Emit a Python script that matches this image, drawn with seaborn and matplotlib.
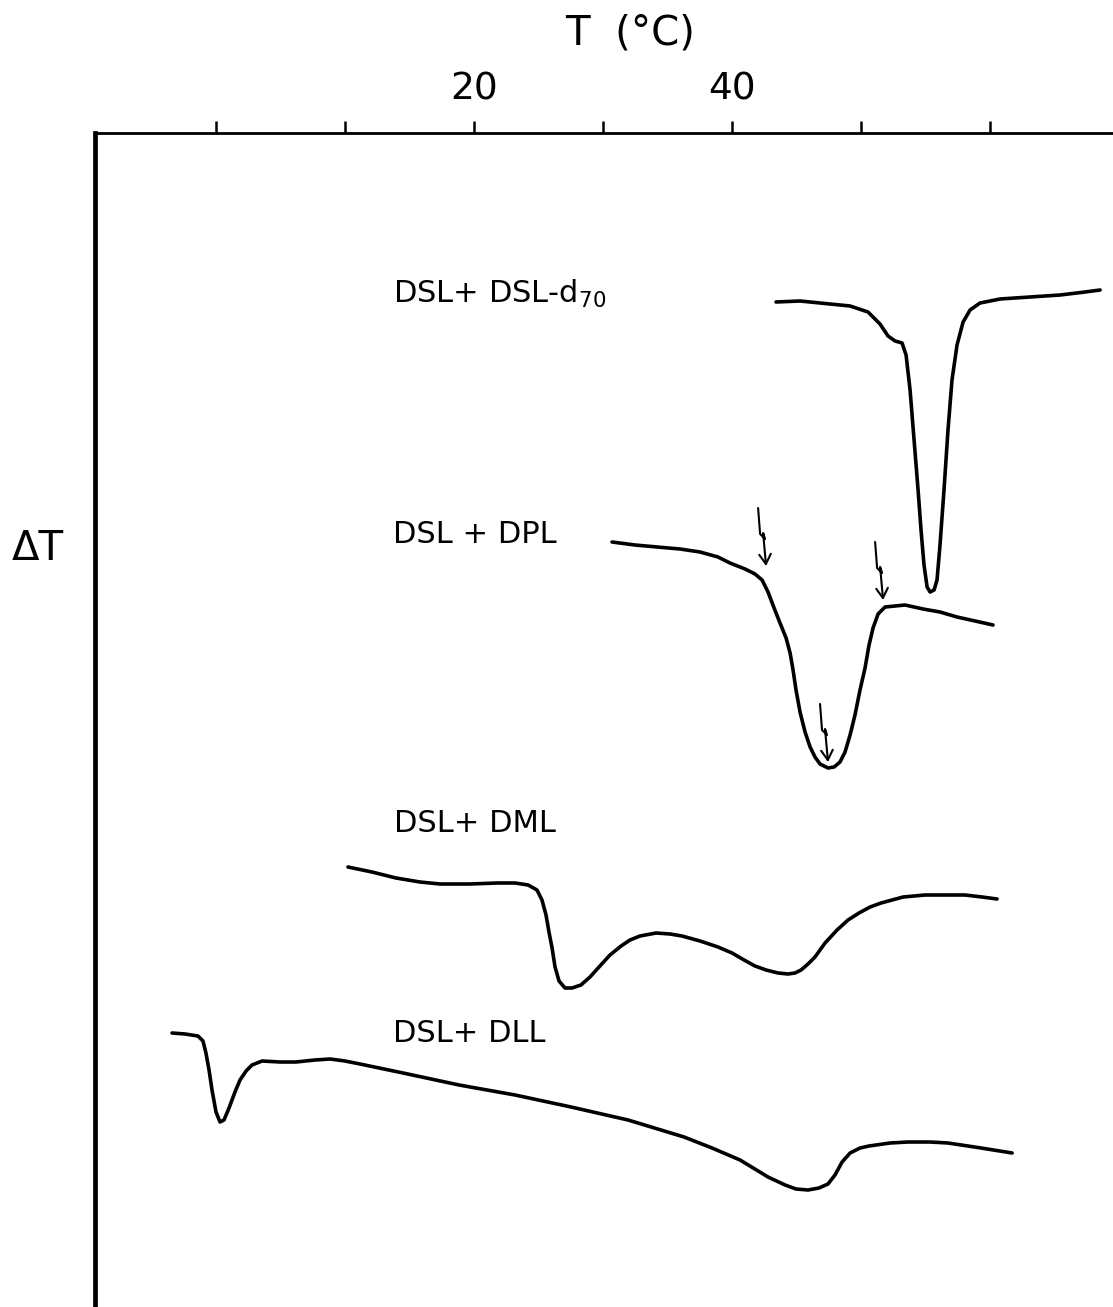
import numpy as np
import pandas as pd
import matplotlib
matplotlib.use("Agg")
import matplotlib.pyplot as plt
from matplotlib.path import Path
from matplotlib.patches import FancyArrowPatch
import seaborn as sns

# ---------------- thermogram data (T in °C, ΔT in arbitrary units) ----------------
t_d70 = [43.41, 45.27, 47.60, 49.15, 50.54, 51.47, 52.09, 52.64, 53.18, 53.49, 53.80,
         54.11, 54.42, 54.65, 54.88, 55.12, 55.35, 55.66, 55.89, 56.12, 56.43, 56.74,
         57.05, 57.44, 57.91, 58.45, 59.22, 60.78, 63.10, 65.43, 67.36, 68.53]
dt_d70 = [10.05, 10.06, 10.03, 10.01, 9.95, 9.83, 9.71, 9.66, 9.64, 9.52, 9.17,
          8.67, 8.17, 7.77, 7.42, 7.20, 7.15, 7.17, 7.27, 7.62, 8.17, 8.77,
          9.27, 9.62, 9.85, 9.97, 10.04, 10.08, 10.10, 10.12, 10.15, 10.17]

t_dpl = [30.70, 32.48, 34.19, 35.97, 37.52, 38.91, 39.84, 41.01, 41.78, 42.33, 42.79,
         43.26, 43.72, 44.19, 44.50, 44.73, 44.96, 45.27, 45.66, 46.05, 46.43, 46.82,
         47.44, 47.91, 48.37, 48.76, 49.15, 49.53, 49.92, 50.31, 50.62, 50.93, 51.32,
         51.86, 52.64, 53.41, 54.81, 56.12, 57.44, 58.84, 60.23]
dt_dpl = [7.65, 7.62, 7.60, 7.58, 7.55, 7.50, 7.44, 7.38, 7.33, 7.27, 7.15,
          6.99, 6.84, 6.69, 6.54, 6.37, 6.17, 5.95, 5.75, 5.60, 5.50, 5.43,
          5.39, 5.40, 5.45, 5.55, 5.72, 5.92, 6.17, 6.39, 6.62, 6.79, 6.93,
          7.00, 7.01, 7.02, 6.98, 6.95, 6.90, 6.86, 6.82]

t_dml = [10.23, 12.09, 13.95, 15.81, 17.36, 19.69, 21.78, 23.18, 24.19, 24.88, 25.27,
         25.58, 25.81, 26.05, 26.28, 26.59, 27.05, 27.60, 28.29, 28.99, 29.69, 30.54,
         31.40, 32.09, 32.87, 34.11, 35.19, 36.12, 37.52, 38.91, 40.00, 40.93, 41.78,
         42.64, 43.57, 44.34, 44.88, 45.35, 45.89, 46.43, 47.21, 48.14, 48.99, 49.84,
         50.70, 51.55, 53.26, 54.96, 56.67, 58.06, 59.38, 60.54]
dt_dml = [4.40, 4.35, 4.29, 4.25, 4.23, 4.23, 4.24, 4.24, 4.22, 4.17, 4.07,
          3.92, 3.75, 3.59, 3.40, 3.26, 3.19, 3.19, 3.22, 3.30, 3.40, 3.52,
          3.61, 3.67, 3.71, 3.74, 3.73, 3.71, 3.66, 3.60, 3.54, 3.47, 3.41,
          3.37, 3.34, 3.33, 3.34, 3.37, 3.43, 3.50, 3.64, 3.77, 3.87, 3.94,
          4.00, 4.04, 4.10, 4.12, 4.12, 4.12, 4.10, 4.08]

t_dll = [-3.41, -2.40, -1.40, -1.01, -0.78, -0.54, -0.31, 0.00, 0.31, 0.62, 1.01,
         1.47, 1.86, 2.33, 2.79, 3.57, 4.96, 6.20, 7.67, 8.84, 10.00, 11.16,
         14.50, 18.84, 23.18, 27.52, 31.94, 36.28, 38.45, 40.62, 42.79, 44.11,
         44.96, 45.89, 46.74, 47.44, 47.98, 48.53, 49.15, 49.92, 50.62, 52.25,
         53.64, 55.35, 56.74, 59.30, 61.71]
dt_dll = [2.74, 2.73, 2.71, 2.66, 2.54, 2.37, 2.17, 1.95, 1.85, 1.87, 1.99,
          2.15, 2.27, 2.36, 2.42, 2.46, 2.45, 2.45, 2.47, 2.48, 2.46, 2.43,
          2.34, 2.22, 2.12, 2.00, 1.87, 1.70, 1.59, 1.47, 1.30, 1.22,
          1.18, 1.17, 1.19, 1.23, 1.32, 1.45, 1.54, 1.59, 1.61, 1.64,
          1.65, 1.65, 1.64, 1.59, 1.54]

curve_labels = ["DSL+ DSL-d$_{70}$", "DSL + DPL", "DSL+ DML", "DSL+ DLL"]
label_t = [13.7, 13.7, 13.8, 13.7]
label_dt = [10.04, 7.64, 4.75, 2.65]

# transition markers on the DSL + DPL trace (arrow tips)
marker_t = [42.64, 51.71, 47.44]
marker_dt = [7.41, 7.07, 5.45]

tick_values = [0, 10, 20, 30, 40, 50, 60]
tick_labels = ["", "", "20", "", "40", "", ""]

# ---------------- figure ----------------
sns.set_theme(style="white")
plt.rcParams["font.family"] = ["DejaVu Sans"]
plt.rcParams["mathtext.default"] = "regular"

W, H = 1113, 1307
fig = plt.figure(figsize=(W / 100, H / 100), dpi=100)
ax = fig.add_axes([95 / W, 0.0, 1 - 95 / W, 1174 / H])

frames = []
for name, t, dt in [("d70", t_d70, dt_d70), ("dpl", t_dpl, dt_dpl),
                    ("dml", t_dml, dt_dml), ("dll", t_dll, dt_dll)]:
    frames.append(pd.DataFrame({"T": t, "dT": dt, "run": name}))
df = pd.concat(frames, ignore_index=True)

for name in ["d70", "dpl", "dml", "dll"]:
    sub = df[df["run"] == name]
    sns.lineplot(data=sub, x="T", y="dT", ax=ax, color="black", linewidth=2.6,
                 estimator=None, sort=False, legend=False)
for line in ax.get_lines():
    line.set_solid_capstyle("round")
    line.set_solid_joinstyle("round")

for txt, tx, ty in zip(curve_labels, label_t, label_dt):
    ax.text(tx, ty, txt, fontsize=22, ha="left", va="baseline", color="black")

# hand-drawn style arrows: short stroke with a small kink, arrowhead at tip
px_x, px_y = 12.9, 100.0
for tx, ty in zip(marker_t, marker_dt):
    offs = [(-8, -58), (-6, -32), (-1, -27), (-3, -33), (0, 0)]
    verts = [(tx + ox / px_x, ty - oy / px_y) for ox, oy in offs]
    path = Path(verts, [Path.MOVETO] + [Path.LINETO] * (len(verts) - 1))
    arr = FancyArrowPatch(path=path, arrowstyle="->,head_length=0.5,head_width=0.3",
                          mutation_scale=14, color="black", linewidth=1.5)
    ax.add_patch(arr)

ax.set_xlim(-9.38, 69.53)
ax.set_ylim(0, 11.74)

# temperature axis on top
ax.xaxis.tick_top()
ax.xaxis.set_label_position("top")
ax.set_xticks(tick_values)
ax.set_xticklabels(tick_labels, fontsize=27)
ax.tick_params(axis="x", which="major", direction="out", length=9, width=1.8,
               pad=9, top=True, bottom=False, color="black", labelcolor="black")
ax.set_yticks([])

ax.set_xlabel("T  (°C)", fontsize=29, color="black")
ax.xaxis.set_label_coords(0.5255, 1.085)
ax.xaxis.label.set_va("center")

ax.set_ylabel("ΔT", fontsize=29, rotation=0, color="black")
ax.yaxis.set_label_coords(-0.056, 0.6457)
ax.yaxis.label.set_va("center")
ax.yaxis.label.set_ha("center")

for side in ["bottom", "right"]:
    ax.spines[side].set_visible(False)
ax.spines["top"].set_linewidth(2.0)
ax.spines["left"].set_linewidth(3.4)
ax.spines["top"].set_color("black")
ax.spines["left"].set_color("black")
ax.grid(False)

fig.savefig("out.png", dpi=100, facecolor="white")
